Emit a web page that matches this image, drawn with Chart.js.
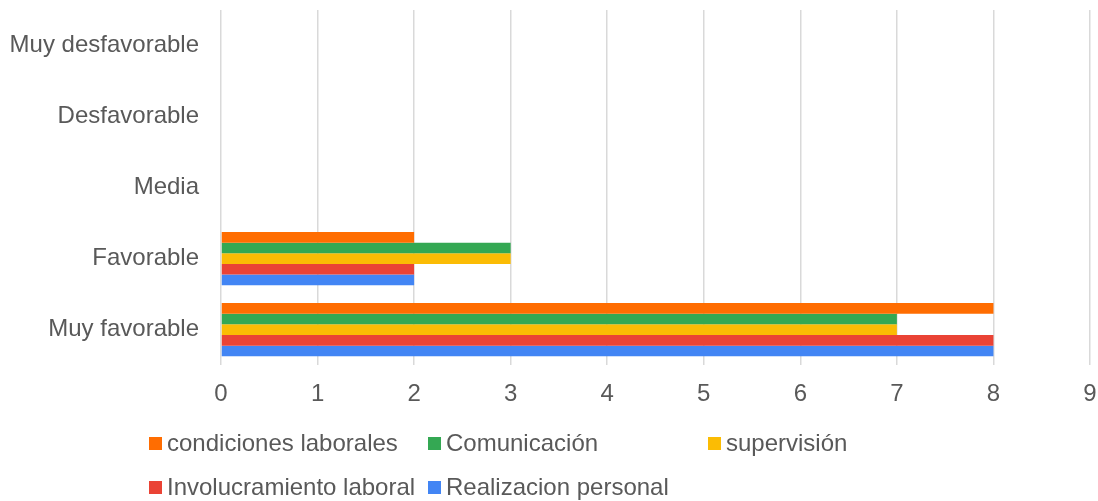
<!DOCTYPE html>
<html>
<head>
<meta charset="utf-8">
<script src="https://cdn.jsdelivr.net/npm/chart.js@4"></script>
<style>
  body { margin: 0; background: #fff; }
  #wrap { position: relative; width: 1098px; height: 501px; }
  .leg { position: absolute; font: 24px "Liberation Sans", Arial, sans-serif; color: #595959; white-space: nowrap; line-height: 28px; height: 28px; }
  .leg i { display: inline-block; width: 13px; height: 13px; margin-right: 5px; vertical-align: 1px; }
</style>
</head>
<body>
<div id="wrap">
  <canvas id="my-chart" width="1098" height="501"></canvas>
  <div id="legend"></div>
</div>
<script>
const categories = ["Muy desfavorable", "Desfavorable", "Media", "Favorable", "Muy favorable"];
const seriesNames = ["condiciones laborales", "Comunicación", "supervisión", "Involucramiento laboral", "Realizacion personal"];
const condiciones = [0, 0, 0, 2, 8];
const comunicacion = [0, 0, 0, 3, 7];
const supervision = [0, 0, 0, 3, 7];
const involucramiento = [0, 0, 0, 2, 8];
const realizacion = [0, 0, 0, 2, 8];
const xTicks = [0, 1, 2, 3, 4, 5, 6, 7, 8, 9];

const colors = ["#FF6D01", "#34A853", "#FBBC04", "#EA4335", "#4285F4"];
const seriesValues = [condiciones, comunicacion, supervision, involucramiento, realizacion];

const font = { family: "'Liberation Sans', Arial, sans-serif", size: 24 };

const ctx = document.getElementById("my-chart").getContext("2d");
const chart = new Chart(ctx, {
  type: "bar",
  data: {
    labels: categories,
    datasets: seriesNames.map((name, i) => ({
      label: name,
      data: seriesValues[i],
      backgroundColor: colors[i],
      borderWidth: 0,
      categoryPercentage: 0.75,
      barPercentage: 1
    }))
  },
  options: {
    indexAxis: "y",
    responsive: false,
    animation: false,
    layout: { padding: { top: 10, right: 8, bottom: 77, left: 0 } },
    plugins: { legend: { display: false }, tooltip: { enabled: false } },
    scales: {
      x: {
        min: 0,
        max: 9,
        afterBuildTicks: s => { s.ticks = xTicks.map(v => ({ value: v })); },
        afterFit: s => { s.paddingLeft = 0; s.paddingRight = 0; },
        ticks: { color: "#595959", font: font, padding: 15 },
        grid: { color: "#d9d9d9", lineWidth: 1.5, drawTicks: false },
        border: { display: false }
      },
      y: {
        afterFit: s => { s.width = 221; s.paddingTop = 0; s.paddingBottom = 0; },
        ticks: { color: "#595959", font: font, padding: 22 },
        grid: { display: false, drawTicks: false },
        border: { display: false }
      }
    }
  }
});

// legend laid out in fixed columns like the original
const legendPos = [[149, 429], [428, 429], [708, 429], [149, 473], [428, 473]];
const legendEl = document.getElementById("legend");
seriesNames.forEach((name, i) => {
  const d = document.createElement("div");
  d.className = "leg";
  d.style.left = legendPos[i][0] + "px";
  d.style.top = legendPos[i][1] + "px";
  d.innerHTML = '<i style="background:' + colors[i] + '"></i>' + name;
  legendEl.appendChild(d);
});
</script>
</body>
</html>
